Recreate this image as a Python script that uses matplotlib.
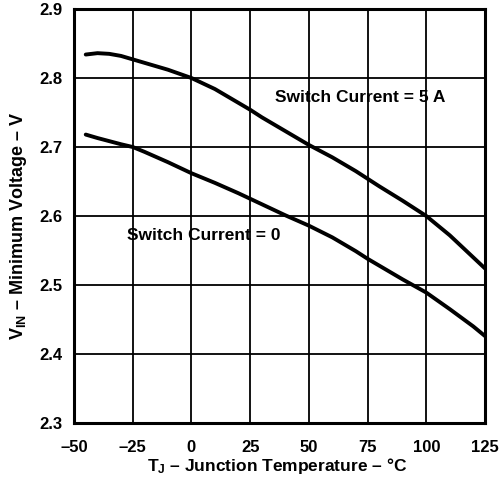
import matplotlib
matplotlib.use("Agg")
import matplotlib.pyplot as plt

# junction temperature (deg C) vs minimum input voltage (V)
temp_5a = [-45, -40, -35, -30, -25, -20, -10, 0, 10, 20, 25, 30, 40, 50,
           60, 70, 75, 80, 90, 100, 110, 120, 125]
vmin_5a = [2.834, 2.836, 2.835, 2.832, 2.827, 2.822, 2.812, 2.800, 2.784,
           2.764, 2.754, 2.743, 2.723, 2.703, 2.685, 2.665, 2.654, 2.643,
           2.622, 2.600, 2.572, 2.540, 2.524]

temp_0a = [-45, -40, -30, -25, -20, -10, 0, 10, 20, 25, 30, 40, 50, 60,
           70, 75, 80, 90, 100, 110, 120, 125]
vmin_0a = [2.718, 2.713, 2.704, 2.700, 2.693, 2.678, 2.662, 2.648, 2.633,
           2.625, 2.617, 2.601, 2.586, 2.569, 2.549, 2.538, 2.528, 2.508,
           2.489, 2.465, 2.440, 2.426]

xticks = [-50, -25, 0, 25, 50, 75, 100, 125]
xtick_labels = ["\u201350", "\u201325", "0", "25", "50", "75", "100", "125"]
yticks = [2.3, 2.4, 2.5, 2.6, 2.7, 2.8, 2.9]

plt.rcParams['font.family'] = ['Liberation Sans', 'DejaVu Sans']
plt.rcParams['font.weight'] = 'bold'
plt.rcParams['mathtext.fontset'] = 'custom'
plt.rcParams['mathtext.rm'] = 'Liberation Sans:bold'
plt.rcParams['mathtext.it'] = 'Liberation Sans:bold'
plt.rcParams['mathtext.bf'] = 'Liberation Sans:bold'

fig = plt.figure(figsize=(5.03, 4.82), dpi=100)
ax = fig.add_axes([74 / 503, 1 - 423 / 482, 411 / 503, 414 / 482])

ax.plot(temp_5a, vmin_5a, color='black', lw=2.8, solid_capstyle='round')
ax.plot(temp_0a, vmin_0a, color='black', lw=2.8, solid_capstyle='round')

ax.set_xlim(-50, 125)
ax.set_ylim(2.3, 2.9)
ax.set_xticks(xticks)
ax.set_xticklabels(xtick_labels)
ax.set_yticks(yticks)
ax.set_yticklabels([f"{v:.1f}" for v in yticks])
ax.tick_params(axis='x', length=0, labelsize=12, pad=12)
ax.tick_params(axis='y', length=0, labelsize=12, pad=8)
ax.grid(True, color='black', lw=1.3)
for s in ax.spines.values():
    s.set_linewidth(2.2)

ax.text(35.6, 2.772, "Switch Current = 5 A", fontsize=12.5, fontweight='bold', va='center')
ax.text(-27.6, 2.572, "Switch Current = 0", fontsize=12.5, fontweight='bold', va='center')

fig.text(277 / 503, 1 - 466 / 482, "T$_J$ \u2013 Junction Temperature \u2013 \u00b0C",
         fontsize=12.5, fontweight='bold', ha='center', va='center')
fig.text(19 / 503, 1 - 226 / 482, "V$_{IN}$ \u2013 Minimum Voltage \u2013 V",
         fontsize=13, fontweight='bold', ha='center', va='center', rotation=90)

fig.savefig("out.png", dpi=100)
